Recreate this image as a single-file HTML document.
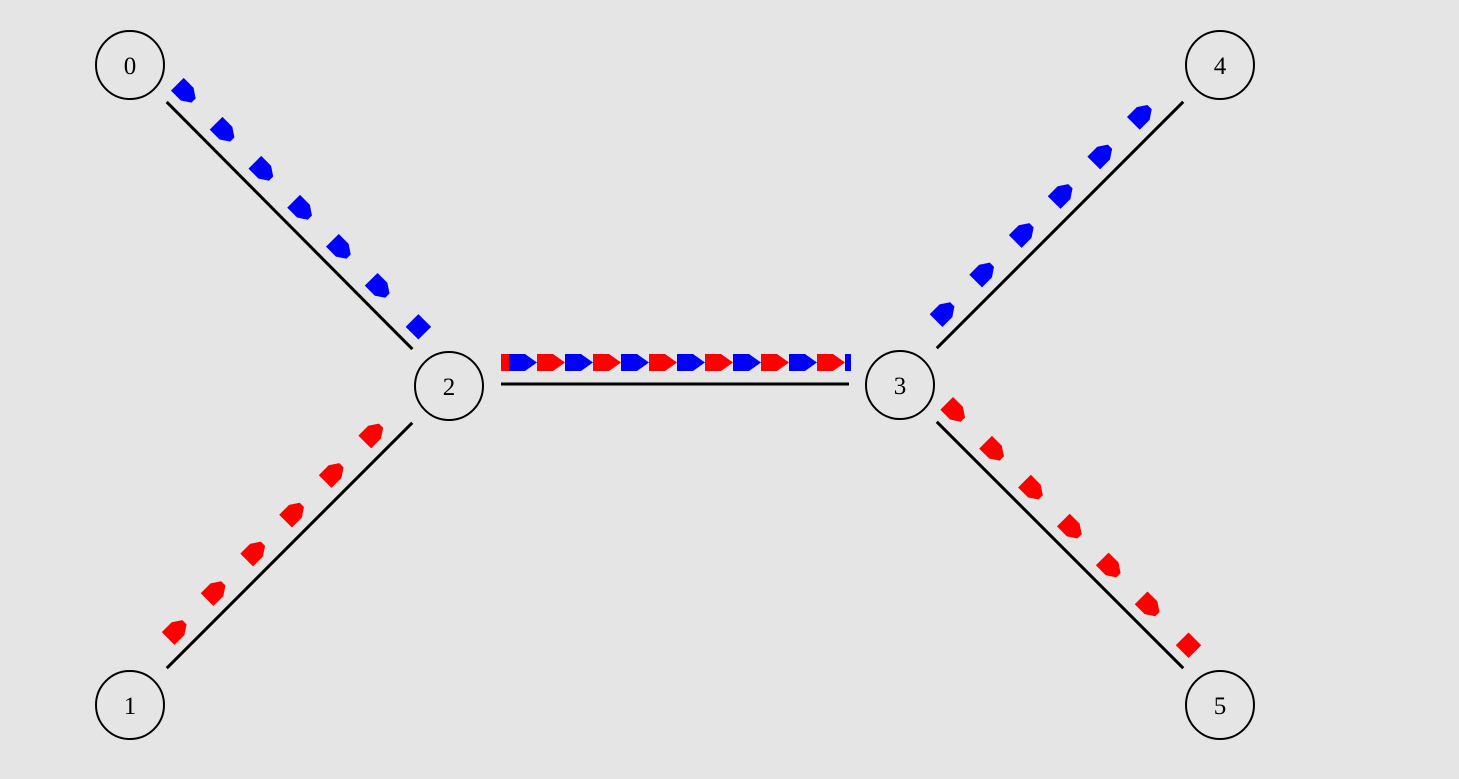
<!DOCTYPE html>
<html><head><meta charset="utf-8"><style>
html,body{margin:0;padding:0;background:#e5e5e5;}
svg{display:block;}
text{font-family:"Liberation Serif",serif;font-size:25px;}
</style></head><body>
<svg id="c" width="1459" height="779">
<rect width="1459" height="779" fill="#e5e5e5"/>
</svg>
<script>
const nodeIds=["0","1","2","3","4","5"];
const nodeX=[130,130,449,900,1220,1220];
const nodeY=[65,705,386,385,65,705];
const linkFrom=[0,1,2,3,3];
const linkTo=[2,2,3,4,5];
// diagonal packet flows: link index, colour, distances along link (px from source node centre)
const flowLink=[0,1,3,4];
const flowColor=["#0000ff","#ff0000","#0000ff","#ff0000"];
const flowDist=[
 [59,114,169,224,279,334,389],
 [86,141,197,252,308,364],
 [83,139,195,250,306,362],
 [58,113,168,223,278,333,388]
];
const flowPartial=[6,-1,-1,6];
// 2-3 queue packets alternating colours
const queueColors=["#ff0000","#0000ff","#ff0000","#0000ff","#ff0000","#0000ff","#ff0000","#0000ff","#ff0000","#0000ff","#ff0000","#0000ff","#ff0000","#0000ff"];
const svg=document.getElementById('c');
const NS='http://www.w3.org/2000/svg';
function mk(t,a){const e=document.createElementNS(NS,t);for(const k in a)e.setAttribute(k,a[k]);svg.appendChild(e);return e;}
// links
linkFrom.forEach((f,i)=>{
 const t=linkTo[i];const dx=nodeX[t]-nodeX[f],dy=nodeY[t]-nodeY[f];const L=Math.hypot(dx,dy);
 const ux=dx/L,uy=dy/L;let x1=nodeX[f]+ux*52,y1=nodeY[f]+uy*52,x2=nodeX[t]-ux*52,y2=nodeY[t]-uy*52;
 let e;
 if(i===2){e=mk('line',{x1:501,y1:384,x2:849,y2:384,stroke:'#000','stroke-width':3});}
 else e=mk('line',{x1,y1,x2,y2,stroke:'#000','stroke-width':3});
 
 
});
// diagonal packets
flowLink.forEach((li,k)=>{
 const f=linkFrom[li],t=linkTo[li];const dx=nodeX[t]-nodeX[f],dy=nodeY[t]-nodeY[f];const L=Math.hypot(dx,dy);
 const ux=dx/L,uy=dy/L;const px=uy,py=-ux;
 const ang=Math.atan2(uy,ux)*180/Math.PI;
 flowDist[k].forEach((d,j)=>{
  const cx=nodeX[f]+ux*d+px*20,cy=nodeY[f]+uy*d+py*20;
  let pts;
  if(j===flowPartial[k]) pts="-9,-9 9,-9 9,9 -9,9";
  else pts="-12,-9 2,-9 11,-3 11,3 2,9 -12,9";
  const e=mk('polygon',{points:pts,fill:flowColor[k],transform:`translate(${cx},${cy}) rotate(${j===flowPartial[k]?45:ang})`});
  
  
 });
});
// queue packets on 2-3
queueColors.forEach((c,i)=>{
 const x=481+i*28;
 const xe=x+28;
 let pts;
 if(i===0) pts=`501,354 509,354 509,371 501,371`;
 else if(i===queueColors.length-1) pts=`${x},354 ${x+6},354 ${x+6},371 ${x},371`;
 else pts=`${x},354 ${x+16},354 ${xe},362.5 ${x+16},371 ${x},371`;
 const e=mk('polygon',{points:pts,fill:c});
 
 
});
// nodes
nodeIds.forEach((id,i)=>{
 const g=mk('circle',{cx:nodeX[i],cy:nodeY[i],r:34,fill:'none',stroke:'#000','stroke-width':2});
 
 
 const t=mk('text',{x:nodeX[i],y:nodeY[i]+9,'text-anchor':'middle'});
 t.textContent=id;
 
 
});
</script>
</body></html>
